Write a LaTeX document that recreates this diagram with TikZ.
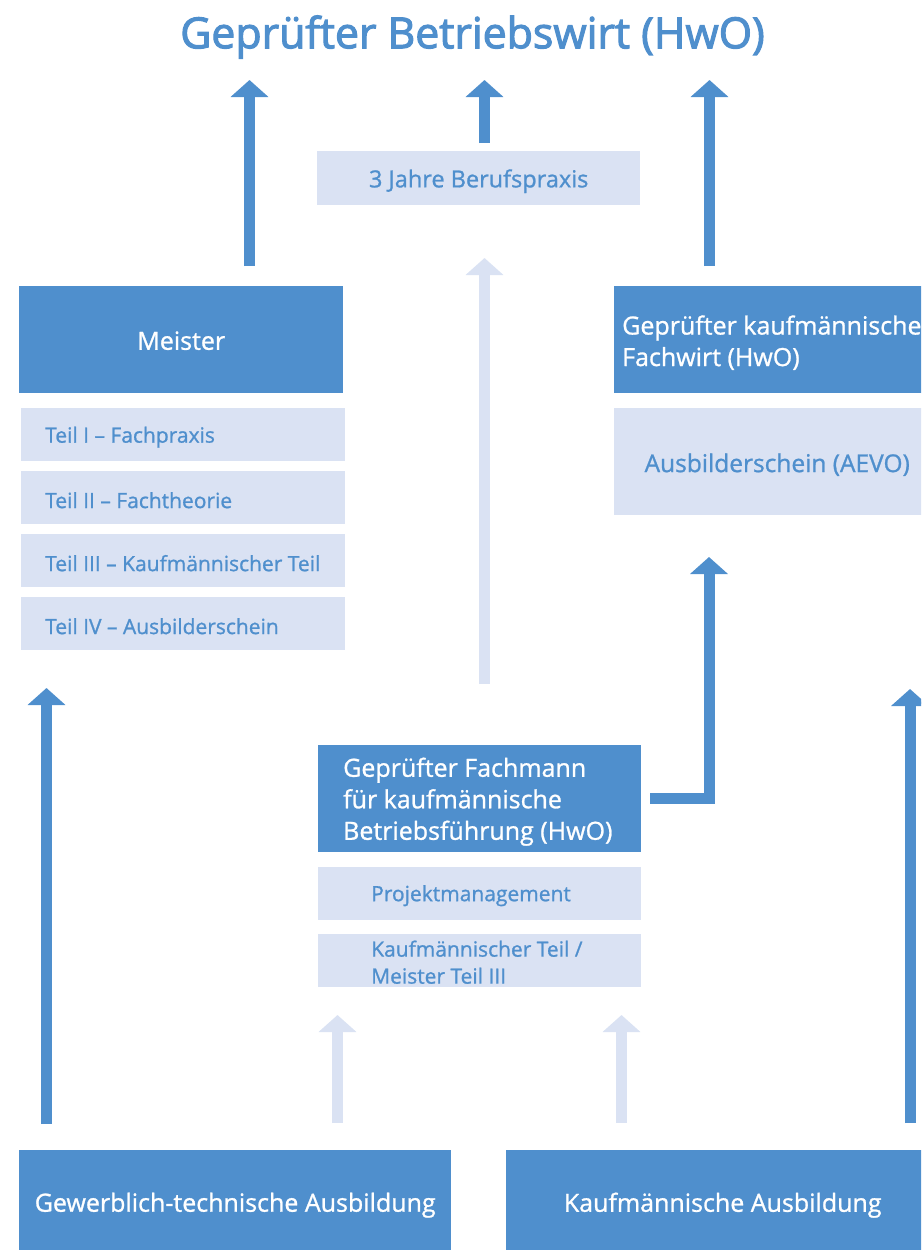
\documentclass[tikz,border=0pt]{standalone}
\usepackage{fontspec}
\setmainfont{Open Sans}
\newfontfamily\medfont{Open Sans}[FakeBold=1.0]
\newfontfamily\titlefont{Open Sans}[FakeBold=2.5]
\usetikzlibrary{arrows.meta,calc}
\definecolor{dblue}{RGB}{79,143,205}
\definecolor{lblue}{RGB}{218,226,243}
\begin{document}
\begin{tikzpicture}[x=1pt,y=-1pt,
  dbox/.style={fill=dblue, draw=none, anchor=north west, inner sep=0pt},
  lbox/.style={fill=lblue, draw=none, anchor=north west, inner sep=0pt},
  wtext/.style={text=white, font=\medfont\fontsize{25}{31.5}\selectfont, align=left, inner sep=0pt},
  btext/.style={text=dblue, font=\medfont\fontsize{21}{27}\selectfont, align=left, inner sep=0pt},
  darr/.style={draw=dblue, line width=11pt, -{Triangle[width=37pt,length=17pt]}},
  larr/.style={draw=lblue, line width=11pt, -{Triangle[width=37pt,length=17pt]}},
]
\useasboundingbox (0,0) rectangle (921,1250);
\clip (0,0) rectangle (921,1250);

% title
\node[text=dblue, font=\titlefont\fontsize{42.8}{46}\selectfont, inner sep=0pt] (title) at (472.5,37) {Geprüfter Betriebswirt (HwO)};

% 3 Jahre
\node[lbox, minimum width=323pt, minimum height=54pt] (praxis) at (317,151) {};
\node[btext, font=\medfont\fontsize{23.5}{27}\selectfont] (praxisl) at ([yshift=-3pt]praxis.center) {3 Jahre Berufspraxis};

% Meister column
\node[dbox, minimum width=324pt, minimum height=107pt] (meister) at (19,286) {};
\node[wtext] (meisterl) at ([yshift=-1pt]meister.center) {Meister};
\node[lbox, minimum width=324pt, minimum height=53pt] (t1) at (21,408) {};
\node[lbox, minimum width=324pt, minimum height=53pt] (t2) at (21,471) {};
\node[lbox, minimum width=324pt, minimum height=53pt] (t3) at (21,534) {};
\node[lbox, minimum width=324pt, minimum height=53pt] (t4) at (21,597) {};
\node[btext, anchor=west] (t1l) at ([xshift=24pt,yshift=-2.5pt]t1.west) {Teil I – Fachpraxis};
\node[btext, anchor=west] (t2l) at ([xshift=24pt,yshift=-2.5pt]t2.west) {Teil II – Fachtheorie};
\node[btext, anchor=west] (t3l) at ([xshift=24pt,yshift=-2.5pt]t3.west) {Teil III – Kaufmännischer Teil};
\node[btext, anchor=west] (t4l) at ([xshift=24pt,yshift=-2.5pt]t4.west) {Teil IV – Ausbilderschein};

% Fachwirt column
\node[dbox, minimum width=326pt, minimum height=107pt] (fachwirt) at (614,286) {};
\node[wtext, anchor=west] (fachwirtl) at ([xshift=8pt,yshift=-3pt]fachwirt.west) {Geprüfter kaufmännischer\\Fachwirt (HwO)};
\node[lbox, minimum width=326pt, minimum height=107pt] (aevo) at (614,408) {};
\node[btext, font=\medfont\fontsize{24.5}{27}\selectfont] (aevol) at ([yshift=-3pt]aevo.center) {Ausbilderschein (AEVO)};

% Fachmann column
\node[dbox, minimum width=323pt, minimum height=107pt] (fachmann) at (318,745) {};
\node[wtext, anchor=west] (fachmannl) at ([xshift=25pt,yshift=-3pt]fachmann.west) {Geprüfter Fachmann\\für kaufmännische\\Betriebsführung (HwO)};
\node[lbox, minimum width=323pt, minimum height=53pt] (proj) at (318,867) {};
\node[lbox, minimum width=323pt, minimum height=53pt] (kfm) at (318,934) {};
\node[btext, anchor=west] (projl) at ([xshift=53pt,yshift=-2pt]proj.west) {Projektmanagement};
\node[btext, anchor=west] (kfml) at ([xshift=53pt,yshift=-1.5pt]kfm.west) {Kaufmännischer Teil /\\Meister Teil III};

% bottom boxes
\node[dbox, minimum width=432pt, minimum height=100pt] (gewerb) at (19,1150) {};
\node[wtext] (gewerbl) at ([yshift=-5pt]gewerb.center) {Gewerblich-technische Ausbildung};
\node[dbox, minimum width=433pt, minimum height=100pt] (kaufm) at (506,1150) {};
\node[wtext] (kaufml) at ([yshift=-5pt]kaufm.center) {Kaufmännische Ausbildung};

% arrow end points
\coordinate (a1s) at (249.5,266);  \coordinate (a1e) at (249.5,80);
\coordinate (a2s) at (484.5,143);  \coordinate (a2e) at (484.5,80);
\coordinate (a3s) at (709.5,266);  \coordinate (a3e) at (709.5,80);
\coordinate (a4s) at (484.5,684);  \coordinate (a4e) at (484.5,258);
\coordinate (a5s) at (650,798.5);  \coordinate (a5m) at (709,798.5); \coordinate (a5e) at (709,557);
\coordinate (a6s) at (46.5,1124);  \coordinate (a6e) at (46.5,688);
\coordinate (a7s) at (910,1123);   \coordinate (a7e) at (910,689);
\coordinate (a8s) at (337.5,1123); \coordinate (a8e) at (337.5,1015);
\coordinate (a9s) at (621.5,1123); \coordinate (a9e) at (621.5,1015);

\draw[darr] (a1s) -- (a1e);
\draw[darr] (a2s) -- (a2e);
\draw[darr] (a3s) -- (a3e);
\draw[larr] (a4s) -- (a4e);
\draw[darr, line join=miter] (a5s) -- (a5m) -- (a5e);
\draw[darr] (a6s) -- (a6e);
\draw[darr] (a7s) -- (a7e);
\draw[larr] (a8s) -- (a8e);
\draw[larr] (a9s) -- (a9e);
\end{tikzpicture}
\end{document}
